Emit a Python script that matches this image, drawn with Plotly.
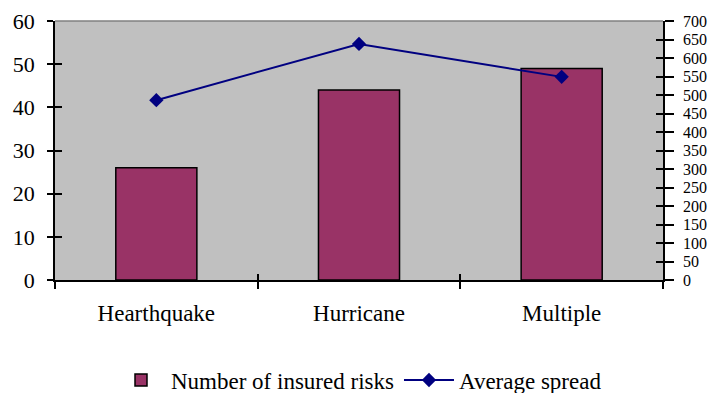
import plotly.graph_objects as go

categories = ["Hearthquake", "Hurricane", "Multiple"]
insured_risks = [26, 44, 49]
average_spread = [486, 638, 549]

left_ticks = [0, 10, 20, 30, 40, 50, 60]
right_ticks = list(range(0, 701, 50))

FONT = "Liberation Serif"

fig = go.Figure()

fig.add_trace(go.Bar(
    x=categories, y=insured_risks, name="Number of insured risks",
    marker=dict(color="#993366", line=dict(color="black", width=1.5)),
    width=0.4, yaxis="y",
))

fig.add_trace(go.Scatter(
    x=categories, y=average_spread, name="Average spread",
    mode="lines+markers",
    line=dict(color="#000080", width=2),
    marker=dict(symbol="diamond", size=11, color="#000080"),
    yaxis="y2",
))

# hidden copies of the series so the inner tick axes get drawn
fig.add_trace(go.Scatter(x=categories, y=insured_risks, xaxis="x2", yaxis="y3",
                         mode="markers", marker=dict(opacity=0), showlegend=False,
                         hoverinfo="skip"))
fig.add_trace(go.Scatter(x=categories, y=average_spread, xaxis="x2", yaxis="y4",
                         mode="markers", marker=dict(opacity=0), showlegend=False,
                         hoverinfo="skip"))

axis_common = dict(showline=True, linecolor="black", linewidth=1.5,
                   tickwidth=1.5, tickcolor="black", showgrid=False,
                   zeroline=False, automargin=False)

fig.update_layout(
    width=715, height=393,
    margin=dict(l=55, r=52, t=21, b=113),
    paper_bgcolor="white",
    plot_bgcolor="#C0C0C0",
    font=dict(family=FONT, size=22, color="black"),
    showlegend=True,
    legend=dict(
        orientation="h", x=0.5, xanchor="center",
        yref="container", y=0.033, yanchor="middle",
        font=dict(family=FONT, size=23, color="black"),
        traceorder="normal", itemwidth=50,
    ),
    xaxis=dict(
        type="category", range=[-0.5, 2.5],
        ticks="outside", tickson="boundaries", ticklen=7,
        ticklabelstandoff=12,
        tickfont=dict(family=FONT, size=23, color="black"),
        **axis_common,
    ),
    xaxis2=dict(
        type="category", range=[-0.5, 2.5], overlaying="x", matches="x",
        ticks="inside", tickson="boundaries", ticklen=6,
        showticklabels=False, **axis_common,
    ),
    yaxis=dict(
        range=[0, 60], tickvals=left_ticks,
        ticks="outside", ticklen=6, ticklabelstandoff=8,
        tickfont=dict(family=FONT, size=22, color="black"),
        **axis_common,
    ),
    yaxis3=dict(
        range=[0, 60], tickvals=left_ticks, overlaying="y",
        ticks="inside", ticklen=7, showticklabels=False, **axis_common,
    ),
    yaxis2=dict(
        range=[0, 700], tickvals=right_ticks, overlaying="y", side="right",
        ticks="outside", ticklen=9, ticklabelstandoff=6,
        tickfont=dict(family=FONT, size=16, color="black"),
        **axis_common,
    ),
    yaxis4=dict(
        range=[0, 700], tickvals=right_ticks, overlaying="y", side="right",
        ticks="inside", ticklen=7, showticklabels=False, **axis_common,
    ),
)

# thin grey frame along the top of the plot area
fig.add_shape(type="line", xref="paper", yref="paper", x0=0, x1=1, y0=1, y1=1,
              line=dict(color="#808080", width=1.5))

fig.write_html("out.html")
